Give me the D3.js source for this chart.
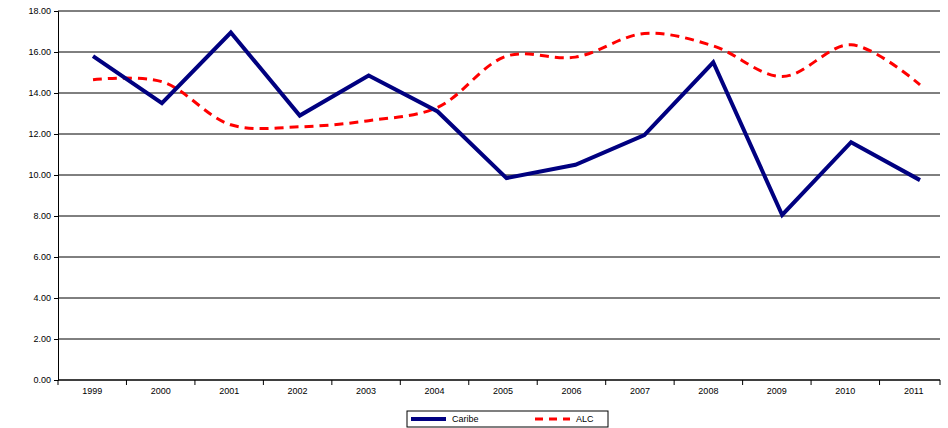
<!DOCTYPE html>
<html><head><meta charset="utf-8">
<script src="https://d3js.org/d3.v7.min.js"></script>
<style>body{margin:0;background:#fff;font-family:Arial,"Liberation Sans",sans-serif}</style>
</head><body>
<script>
var years = ["1999","2000","2001","2002","2003","2004","2005","2006","2007","2008","2009","2010","2011"];
var caribe = [15.8,13.5,16.95,12.9,14.85,13.1,9.85,10.5,11.95,15.5,8.05,11.6,9.75];
var alc = [14.65,14.55,12.45,12.35,12.65,13.3,15.8,15.75,16.9,16.3,14.8,16.35,14.4];
var yTicks = [0,2,4,6,8,10,12,14,16,18];

var w = 948, h = 428;
var svg = d3.select("body").append("svg").attr("width", w).attr("height", h);

var x = d3.scaleBand().domain(years).range([58, 948]);
var xp = d3.scalePoint().domain(years).range([93, 920]);
var y = d3.scaleLinear().domain([0, 18]).range([380, 11]);

// grid
svg.selectAll(".grid").data(yTicks).enter().append("line")
  .attr("x1", 58).attr("x2", 940)
  .attr("y1", function(d) { return y(d); }).attr("y2", function(d) { return y(d); })
  .attr("stroke", "#000").attr("stroke-width", 1);

var yAxis = svg.append("g").attr("transform", "translate(58,0)")
  .call(d3.axisLeft(y).tickValues(yTicks).tickFormat(d3.format(".2f")).tickSize(4));
var xAxis = svg.append("g").attr("transform", "translate(0,380)")
  .call(d3.axisBottom(x).tickSize(0).tickPadding(8));
xAxis.select(".domain").remove();
svg.append("line").attr("x1", 58).attr("x2", 940).attr("y1", 380).attr("y2", 380).attr("stroke", "#000");
svg.append("g").selectAll("line").data(d3.range(years.length + 1)).enter().append("line")
  .attr("x1", function(i) { return Math.min(940, 58 + i * x.step()); }).attr("x2", function(i) { return Math.min(940, 58 + i * x.step()); })
  .attr("y1", 380).attr("y2", 385).attr("stroke", "#000");
[yAxis, xAxis].forEach(function(g) {
  g.selectAll("text").attr("font-size", 9).attr("font-family", "Arial, Liberation Sans, sans-serif").attr("fill", "#000");
  g.selectAll("path,line").attr("stroke", "#000");
});

var cx = function(d, i) { return xp(years[i]); };
svg.append("path").datum(alc)
  .attr("d", d3.line().x(cx).y(function(d) { return y(d); }).curve(d3.curveCatmullRom.alpha(0.5)))
  .attr("fill", "none").attr("stroke", "#ff0000").attr("stroke-width", 3).attr("stroke-dasharray", "9,6");
svg.append("path").datum(caribe)
  .attr("d", d3.line().x(cx).y(function(d) { return y(d); }))
  .attr("fill", "none").attr("stroke", "#000080").attr("stroke-width", 4).attr("stroke-linejoin", "miter");

// legend
var lg = svg.append("g");
lg.append("rect").attr("x", 407).attr("y", 411).attr("width", 201).attr("height", 16)
  .attr("fill", "#fff").attr("stroke", "#000");
lg.append("line").attr("x1", 411).attr("x2", 446).attr("y1", 419).attr("y2", 419)
  .attr("stroke", "#000080").attr("stroke-width", 4);
lg.append("text").attr("x", 452).attr("y", 422).attr("font-size", 9).text("Caribe");
lg.append("line").attr("x1", 535).attr("x2", 570).attr("y1", 419).attr("y2", 419)
  .attr("stroke", "#ff0000").attr("stroke-width", 3).attr("stroke-dasharray", "8,6");
lg.append("text").attr("x", 576).attr("y", 422).attr("font-size", 9).text("ALC");
</script>
</body></html>
